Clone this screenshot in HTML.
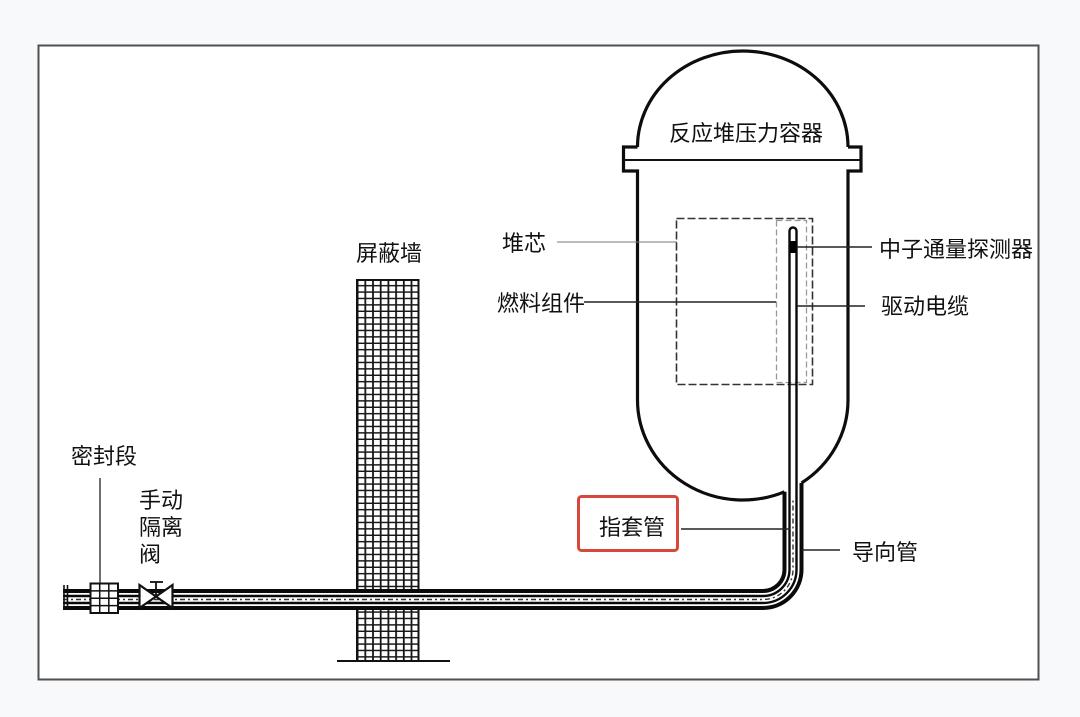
<!DOCTYPE html>
<html><head><meta charset="utf-8"><style>
html,body{margin:0;padding:0;background:#f8f9fb;}
svg{display:block;}
text{font-family:"Liberation Sans","Noto Sans CJK SC",sans-serif;font-size:22px;fill:#111;}
</style></head><body>
<svg width="1080" height="717" viewBox="0 0 1080 717" xmlns="http://www.w3.org/2000/svg">
<defs>
<pattern id="brick" patternUnits="userSpaceOnUse" x="356.7" y="280" width="7.7" height="6.4">
<rect width="7.7" height="6.4" fill="#fff"/>
<line x1="0.9" y1="0" x2="0.9" y2="6.4" stroke="#161616" stroke-width="1.8"/>
<line x1="0" y1="5.7" x2="7.7" y2="5.7" stroke="#161616" stroke-width="1.5"/>
</pattern>
</defs>
<rect x="38.5" y="45.5" width="1000" height="634" fill="#fff" stroke="#505050" stroke-width="2"/>

<!-- shield wall -->
<rect x="357" y="280" width="61.5" height="381" fill="url(#brick)" stroke="#111" stroke-width="2"/>
<line x1="337" y1="661" x2="450" y2="661" stroke="#111" stroke-width="2"/>
<text x="356" y="261">屏蔽墙</text>

<!-- vessel -->
<g fill="none" stroke="#0d0d0d" stroke-width="3.2">
<path d="M637.5 147 A105.25 96 0 0 1 848 147"/>
<path d="M637.5 147 H623.5 V171 H637.5 V400 A105.25 100 0 0 0 784.5 491.8"/>
<path d="M848 147 H861 V171 H848 V400 A105.25 100 0 0 1 801.5 483"/>
</g>
<line x1="623.5" y1="160" x2="861" y2="160" stroke="#111" stroke-width="2"/>
<text x="669" y="141">反应堆压力容器</text>

<!-- core & fuel -->
<rect x="676.5" y="218.5" width="136" height="166" fill="none" stroke="#333" stroke-width="1.6" stroke-dasharray="8 3"/>
<rect x="776.5" y="220.5" width="30" height="162" fill="none" stroke="#999" stroke-width="1.3" stroke-dasharray="6 3"/>

<!-- pipe white background across wall -->
<rect x="356" y="591" width="64" height="17" fill="#fff"/>

<!-- pipe -->
<g fill="none" stroke="#0a0a0a">
<path d="M63 591 H763 A21.5 21.5 0 0 0 784.5 569.5 V491.8" stroke-width="4"/>
<path d="M63 608 H763 A38.5 38.5 0 0 0 801.5 569.5 V483" stroke-width="4"/>
<path d="M63 596 H763 A26.5 26.5 0 0 0 789.5 569.5 V231 A3.5 3.5 0 0 1 796.5 231 V569.5 A33.5 33.5 0 0 1 763 603 H63" stroke-width="2.4"/>
<path d="M63 599.5 H763 A30 30 0 0 0 793 569.5 V500" stroke-width="1.4" stroke="#333" stroke-dasharray="5 3 2 3"/>
</g>
<rect x="790" y="241" width="6" height="12" fill="#000"/>
<line x1="64" y1="585" x2="64" y2="610" stroke="#111" stroke-width="1.6"/>
<line x1="67.5" y1="585" x2="67.5" y2="610" stroke="#111" stroke-width="1.6"/>

<!-- seal segment -->
<g stroke="#111" stroke-width="1.5" fill="#fff">
<rect x="90.5" y="583.5" width="27.5" height="29.5" stroke-width="2"/>
<line x1="99.7" y1="583.5" x2="99.7" y2="613"/>
<line x1="108.8" y1="583.5" x2="108.8" y2="613"/>
<line x1="90.5" y1="590.9" x2="118" y2="590.9"/>
<line x1="90.5" y1="598.3" x2="118" y2="598.3"/>
<line x1="90.5" y1="605.6" x2="118" y2="605.6"/>
</g>
<line x1="100" y1="478" x2="100" y2="583" stroke="#222" stroke-width="1.3"/>
<text x="71" y="464">密封段</text>

<!-- valve -->
<g stroke="#111" stroke-width="2.2" fill="#fff" stroke-linejoin="miter">
<path d="M139.5 585 L139.5 608 L156 596.5 Z"/>
<path d="M172.5 585 L172.5 608 L156 596.5 Z"/>
</g>
<line x1="156" y1="582" x2="156" y2="596" stroke="#111" stroke-width="1.8"/>
<line x1="150" y1="582" x2="163" y2="582" stroke="#111" stroke-width="1.8"/>
<text x="139" y="508">手动</text>
<text x="139" y="535">隔离</text>
<text x="139" y="562">阀</text>

<!-- leaders -->
<line x1="557" y1="242" x2="677" y2="242" stroke="#777" stroke-width="1.1"/>
<text x="502" y="251">堆芯</text>
<line x1="584" y1="302" x2="776" y2="302" stroke="#222" stroke-width="1.6"/>
<text x="497" y="311">燃料组件</text>
<line x1="797" y1="247" x2="872" y2="247" stroke="#222" stroke-width="1.6"/>
<text x="879" y="257">中子通量探测器</text>
<line x1="797" y1="306" x2="865" y2="306" stroke="#222" stroke-width="1.6"/>
<text x="881" y="314">驱动电缆</text>
<line x1="681" y1="529" x2="790" y2="529" stroke="#222" stroke-width="1.6"/>
<rect x="578.5" y="496.5" width="99" height="54" rx="3" fill="none" stroke="#d8473c" stroke-width="3"/>
<text x="599" y="535">指套管</text>
<line x1="802" y1="550" x2="840" y2="550" stroke="#222" stroke-width="1.6"/>
<text x="852" y="560">导向管</text>
</svg>
</body></html>
